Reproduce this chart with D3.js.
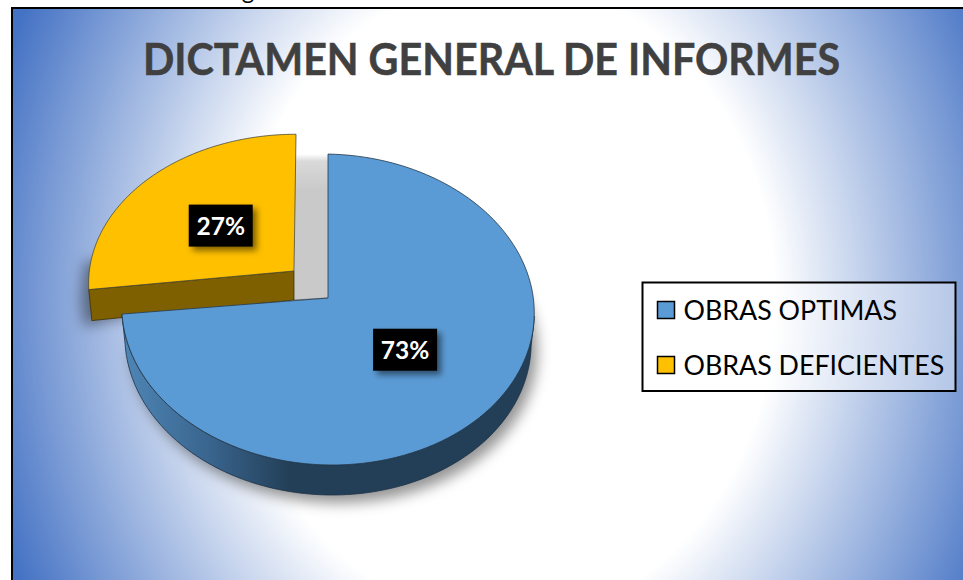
<!DOCTYPE html>
<html><head><meta charset="utf-8">
<style>html,body{margin:0;padding:0;background:#fff;overflow:hidden}svg{display:block}text{font-family:Lato,Carlito,sans-serif}</style>
<script src="https://cdn.jsdelivr.net/npm/d3@7/dist/d3.min.js"></script>
</head><body>
<script>
const categories = ["OBRAS OPTIMAS", "OBRAS DEFICIENTES"];
const values = [73, 27];
const colors = ["#5b9bd5", "#ffc000"];
const titleText = "DICTAMEN GENERAL DE INFORMES";

const W = 963, H = 580;
const svg = d3.select("body").append("svg").attr("width", W).attr("height", H);
const defs = svg.append("defs");

const bg = defs.append("radialGradient").attr("id", "bg").attr("gradientUnits", "userSpaceOnUse")
  .attr("cx", 0).attr("cy", 0).attr("r", 1)
  .attr("gradientTransform", "translate(505,300) scale(540,640)");
[[0, "#fff"], [0.5, "#fff"], [1, "#4472c4"]].forEach(s => bg.append("stop").attr("offset", s[0]).attr("stop-color", s[1]));

const wall = defs.append("linearGradient").attr("id", "wall").attr("gradientUnits", "userSpaceOnUse")
  .attr("x1", 122).attr("x2", 290).attr("y1", 0).attr("y2", 0);
[[0, "#4f86b6"], [0.5, "#3a6690"], [1, "#233f57"]].forEach(s => wall.append("stop").attr("offset", s[0]).attr("stop-color", s[1]));

const gap = defs.append("linearGradient").attr("id", "gap").attr("x1", 0).attr("x2", 0).attr("y1", 0).attr("y2", 1);
[[0, "#c9c9c9", 0], [0.05, "#c9c9c9", 0.7], [0.25, "#c9c9c9", 1], [1, "#c9c9c9", 1]].forEach(s =>
  gap.append("stop").attr("offset", s[0]).attr("stop-color", s[1]).attr("stop-opacity", s[2]));

const blur = defs.append("filter").attr("id", "soft").attr("x", "-20%").attr("y", "-20%").attr("width", "140%").attr("height", "140%");
blur.append("feGaussianBlur").attr("stdDeviation", 7);
const ds = defs.append("filter").attr("id", "labelShadow").attr("x", "-30%").attr("y", "-30%").attr("width", "170%").attr("height", "170%");
ds.append("feDropShadow").attr("dx", 4).attr("dy", 4).attr("stdDeviation", 3).attr("flood-color", "#000").attr("flood-opacity", 0.5);

svg.append("rect").attr("x", 12).attr("y", 8).attr("width", W + 20).attr("height", H + 20)
  .attr("fill", "url(#bg)").attr("stroke", "#000").attr("stroke-width", 2);

svg.append("text").attr("x", 248).attr("y", -1).attr("text-anchor", "middle")
  .attr("font-size", 24).attr("fill", "#000").text("g");

svg.append("text").attr("x", 491.5).attr("y", 75).attr("text-anchor", "middle")
  .attr("font-size", 43).attr("font-weight", 700).attr("fill", "#404040")
  .attr("stroke", "#404040").attr("stroke-width", 0.5)
  .attr("textLength", 697).attr("lengthAdjust", "spacingAndGlyphs").text(titleText);

// perspective projection of the tilted pie
const persp = 0.074, rx = 205.7, ry = 154.6;
const sliceGeom = [
  { ax: 328, ay: 298, sx: 1, sy: 1, skew: 0, shear: 3.5, depth: 30, labelDx: -2, labelDy: -2 },
  { ax: 294, ay: 271, sx: 0.995, sy: 0.95, skew: 2, shear: 0, depth: 29, labelDx: 1, labelDy: 2 }
];
const depthScale = 0.985;
function project(g, a, r, drop) {
  const u = Math.sin(a) * r, v = Math.cos(a) * r, w = 1 + persp * v;
  const k = drop ? depthScale : 1;
  return [g.ax + g.skew * v + g.sx * k * rx * u / w,
          g.ay + (drop ? g.depth : 0) - g.sy * ry * v / w + g.shear * u];
}
const arcPts = (g, a0, a1, drop) => d3.range(0, 121).map(i => project(g, a0 + (a1 - a0) * i / 120, 1, drop));
const line = d3.line();
const slices = d3.pie().sort(null).value(d => d)(values);

const shadowG = svg.append("g").attr("filter", "url(#soft)").attr("fill", "#000").attr("fill-opacity", 0.42);
const g0 = sliceGeom[0], g1 = sliceGeom[1];
const s0 = slices[0], s1 = slices[1];

shadowG.append("path").attr("transform", "translate(6,8)")
  .attr("d", line(arcPts(g0, s0.startAngle, s0.endAngle, true).concat([project(g0, 0, 0, true)])) + "Z");
shadowG.append("path").attr("transform", "translate(-8,8)")
  .attr("d", line([project(g1, s1.startAngle, 1, true), project(g1, s1.startAngle, 1, false), project(g1, s1.startAngle + 0.25, 1, false), project(g1, 0, 0, false)]) + "Z");

// grey gap between the exploded slices
svg.append("path").attr("fill", "url(#gap)")
  .attr("d", line([[g1.ax + 1, project(g0, 0, 1, false)[1]], project(g0, 0, 1, false), project(g0, 0, 0, false), [g1.ax, g1.ay + g1.depth]]) + "Z");
svg.append("path").attr("fill", "none").attr("stroke", "#666").attr("stroke-width", 0.8)
  .attr("d", line([[g1.ax, g1.ay + g1.depth], project(g0, 0, 0, false)]));

// yellow slice
svg.append("path").attr("fill", "#7f6000").attr("stroke", "#3d3000").attr("stroke-width", 0.8)
  .attr("d", line([project(g1, 0, 0, false), project(g1, s1.startAngle, 1, false),
    (p => [p[0], p[1] + 2])(project(g1, s1.startAngle, 1, true)), project(g1, 0, 0, true)]) + "Z");
svg.append("path").attr("fill", colors[1]).attr("stroke", "#4a4a3a").attr("stroke-width", 0.8)
  .attr("d", line(arcPts(g1, s1.startAngle, s1.endAngle, false).concat([project(g1, 0, 0, false)])) + "Z");

// blue slice: outer wall then top
const wallStart = s0.endAngle, wallEnd = Math.PI * 0.53;
svg.append("path").attr("fill", "url(#wall)").attr("stroke", "#1c3145").attr("stroke-width", 0.8)
  .attr("d", line(arcPts(g0, wallStart, wallEnd, false).concat(arcPts(g0, wallEnd, wallStart, true))) + "Z");
svg.append("path").attr("fill", colors[0]).attr("stroke", "#24384a").attr("stroke-width", 0.8)
  .attr("d", line(arcPts(g0, s0.startAngle, s0.endAngle, false).concat([project(g0, 0, 0, false)])) + "Z");

// data labels
slices.forEach((s, i) => {
  const g = sliceGeom[i];
  const c = project(g, (s.startAngle + s.endAngle) / 2, 0.5, false);
  const lx = c[0] + g.labelDx, ly = c[1] + g.labelDy;
  svg.append("rect").attr("x", lx - 32).attr("y", ly - 21).attr("width", 64).attr("height", 42)
    .attr("fill", "#000").attr("filter", "url(#labelShadow)");
  svg.append("text").attr("x", lx).attr("y", ly + 9).attr("text-anchor", "middle")
    .attr("font-size", 24.5).attr("font-weight", 700).attr("fill", "#fff").text(d3.format(".0f")(s.data) + "%");
});

// legend
const lg = svg.append("g");
lg.append("rect").attr("x", 642.5).attr("y", 282.5).attr("width", 313).attr("height", 108.5)
  .attr("fill", "#fff").attr("fill-opacity", 0.42).attr("stroke", "#000").attr("stroke-width", 2);
const rowY = d3.scalePoint().domain(categories).range([310, 365]);
categories.forEach((c, i) => {
  lg.append("rect").attr("x", 657.5).attr("y", rowY(c) - 8.5).attr("width", 17).attr("height", 17)
    .attr("fill", colors[i]).attr("stroke", "#000").attr("stroke-width", 1.5);
  lg.append("text").attr("x", 683.5).attr("y", rowY(c) + 9.5).attr("font-size", 26.8).attr("fill", "#000").text(c);
});
</script>
</body></html>
